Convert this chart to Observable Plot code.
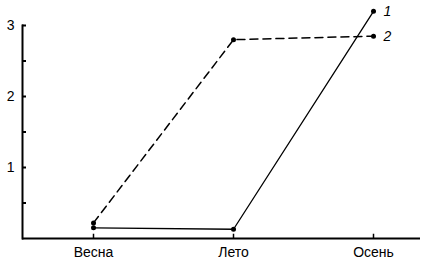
<!DOCTYPE html>
<html>
<head>
<meta charset="utf-8">
<script src="https://cdn.jsdelivr.net/npm/d3@7"></script>
<script src="https://cdn.jsdelivr.net/npm/@observablehq/plot@0.6"></script>
<style>
  html, body { margin: 0; padding: 0; background: #fff; }
  svg { display: block; }
</style>
</head>
<body>
<div id="chart"></div>
<script>
const seasons = ["Весна", "Лето", "Осень"];
const series1 = [0.15, 0.13, 3.2];
const series2 = [0.22, 2.8, 2.85];
const seriesLabels = ["1", "2"];
const yTicks = [0.5, 1, 1.5, 2, 2.5, 3];
const yLabels = [1, 2, 3];

const d1 = seasons.map((s, i) => ({season: s, value: series1[i]}));
const d2 = seasons.map((s, i) => ({season: s, value: series2[i]}));
const ends = [
  {season: seasons[2], value: series1[2], label: seriesLabels[0]},
  {season: seasons[2], value: series2[2], label: seriesLabels[1]}
];

const chart = Plot.plot({
  width: 424,
  height: 263,
  marginLeft: 22,
  marginRight: 4,
  marginTop: 25,
  marginBottom: 25,
  style: {fontFamily: "Liberation Sans, Arial, sans-serif", background: "#fff", color: "#000"},
  x: {type: "point", domain: seasons, range: [92, 373], padding: 0},
  y: {domain: [0, 3]},
  marks: [
    Plot.frame({anchor: "left", strokeWidth: 2}),
    Plot.ruleY([0], {strokeWidth: 2}),
    Plot.ruleY(yTicks, {y: d => d, insetRight: 394, strokeWidth: 2}),
    Plot.axisY({ticks: yLabels, tickSize: 0, tickPadding: 8, tickFormat: "d", fontSize: 14, label: null}),
    Plot.ruleX(seasons, {x: d => d, y1: 0, y2: 0.06, strokeWidth: 1.5}),
    Plot.axisX({tickSize: 0, tickPadding: 9, fontSize: 14, label: null}),
    Plot.line(d2, {x: "season", y: "value", stroke: "#000", strokeWidth: 1.5, strokeDasharray: "8,5"}),
    Plot.line(d1, {x: "season", y: "value", stroke: "#000", strokeWidth: 1.3}),
    Plot.dot(d2, {x: "season", y: "value", r: 2.5, fill: "#000"}),
    Plot.dot(d1, {x: "season", y: "value", r: 2.5, fill: "#000"}),
    Plot.text(ends, {x: "season", y: "value", text: "label", dx: 10, textAnchor: "start", fontSize: 14, fontStyle: "italic"})
  ]
});
document.getElementById("chart").appendChild(chart);
</script>
</body>
</html>
